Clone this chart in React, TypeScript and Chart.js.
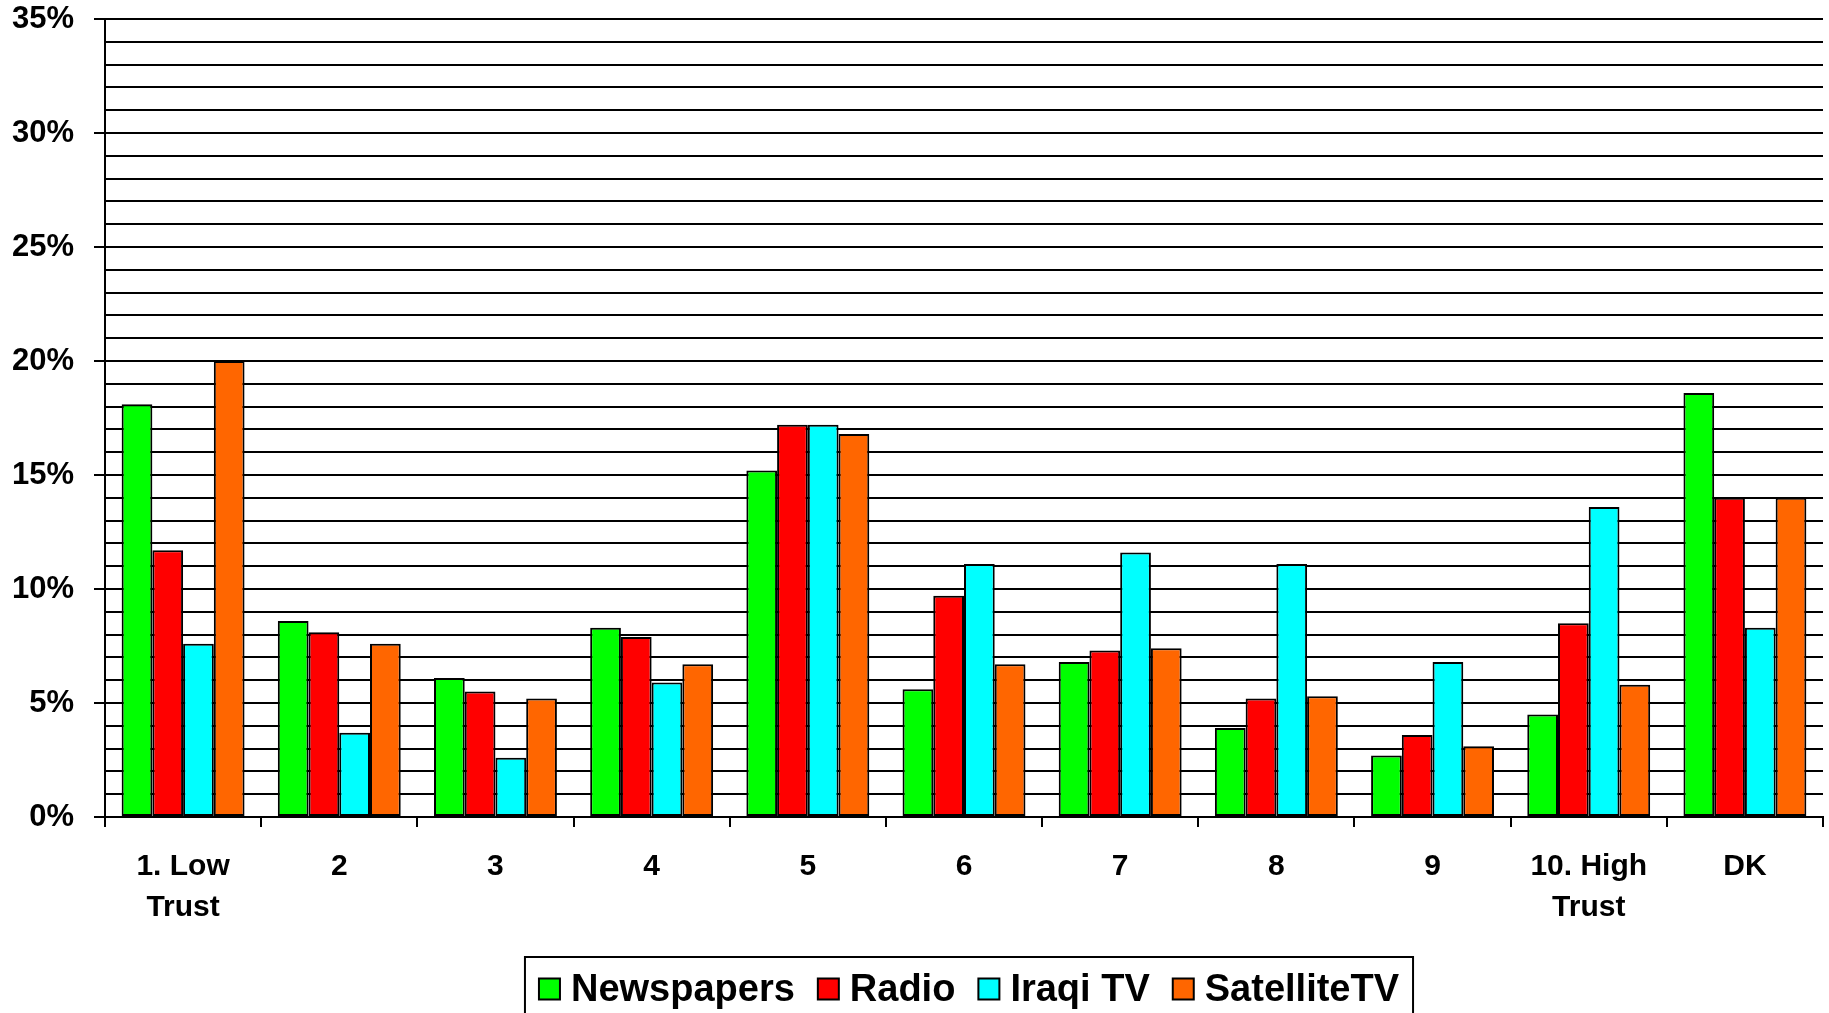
import React, { useEffect, useRef } from 'react';
import { Chart, registerables } from 'chart.js';

Chart.register(...registerables);

const categories: (string | string[])[] = [
  ['1. Low', 'Trust'], '2', '3', '4', '5', '6', '7', '8', '9', ['10. High', 'Trust'], 'DK',
];
const newspapers = [18.1, 8.6, 6.1, 8.3, 15.2, 5.6, 6.8, 3.9, 2.7, 4.5, 18.6];
const radio = [11.7, 8.1, 5.5, 7.9, 17.2, 9.7, 7.3, 5.2, 3.6, 8.5, 14.0];
const iraqiTV = [7.6, 3.7, 2.6, 5.9, 17.2, 11.1, 11.6, 11.1, 6.8, 13.6, 8.3];
const satelliteTV = [20.0, 7.6, 5.2, 6.7, 16.8, 6.7, 7.4, 5.3, 3.1, 5.8, 14.0];
const seriesNames = ['Newspapers', 'Radio', 'Iraqi TV', 'SatelliteTV'];
const seriesColors = ['#00FF00', '#FF0000', '#00FFFF', '#FF6600'];
const yMin = 0;
const yMax = 35;
const yLabelStep = 5;

const FONT = '"Liberation Sans", Arial, sans-serif';

const boxLegend = {
  id: 'boxLegend',
  afterDraw(chart: any) {
    const ctx = chart.ctx as CanvasRenderingContext2D;
    const area = chart.chartArea;
    ctx.save();
    ctx.font = `bold 38px ${FONT}`;
    const box = 21;
    const gapText = 11;
    const gapItem = 23;
    const padX = 14;
    const items = chart.data.datasets.map((d: any) => ({
      label: d.label as string,
      color: d.backgroundColor as string,
      w: ctx.measureText(d.label).width,
    }));
    let total = 0;
    items.forEach((it: any, i: number) => {
      total += box + gapText + it.w + (i < items.length - 1 ? gapItem : 0);
    });
    const cx = (area.left + area.right) / 2 + 5;
    const startX = cx - total / 2;
    const top = 957;
    const midY = 989;
    ctx.lineWidth = 2;
    ctx.strokeStyle = '#000';
    ctx.strokeRect(startX - padX, top, total + padX * 2, 80);
    let x = startX;
    ctx.textBaseline = 'middle';
    ctx.textAlign = 'left';
    items.forEach((it: any) => {
      ctx.fillStyle = it.color;
      ctx.fillRect(x, midY - box / 2, box, box);
      ctx.lineWidth = 2;
      ctx.strokeRect(x, midY - box / 2, box, box);
      ctx.fillStyle = '#000';
      ctx.fillText(it.label, x + box + gapText, midY + 2);
      x += box + gapText + it.w + gapItem;
    });
    ctx.restore();
  },
};

export default function App() {
  const ref = useRef<HTMLCanvasElement | null>(null);

  useEffect(() => {
    document.body.style.margin = '0';
    const canvas = ref.current;
    if (!canvas) return;
    const seriesValues = [newspapers, radio, iraqiTV, satelliteTV];
    const chart = new Chart(canvas, {
      type: 'bar',
      data: {
        labels: categories as any,
        datasets: seriesNames.map((name, i) => ({
          label: name,
          data: seriesValues[i],
          backgroundColor: seriesColors[i],
          borderColor: '#000000',
          borderWidth: 2,
          borderSkipped: false,
          categoryPercentage: 0.787,
          barPercentage: 1.0,
        })),
      },
      options: {
        responsive: false,
        animation: false,
        devicePixelRatio: 1,
        layout: { padding: { top: 19, right: 6, bottom: 76, left: 0 } },
        plugins: {
          legend: { display: false },
          tooltip: { enabled: false },
        },
        scales: {
          x: {
            grid: {
              display: true,
              drawOnChartArea: false,
              drawTicks: true,
              tickLength: 10,
              color: '#000',
              lineWidth: 2,
              offset: true,
            },
            border: { display: true, color: '#000', width: 2 },
            ticks: {
              color: '#000',
              padding: 19,
              maxRotation: 0,
              autoSkip: false,
              font: { family: FONT, size: 30, weight: 'bold', lineHeight: 1.37 },
            },
            afterFit(scale: any) {
              scale.height = 120;
              scale.paddingLeft = 0;
              scale.paddingRight = 0;
            },
          },
          y: {
            min: yMin,
            max: yMax,
            grid: {
              color: '#000',
              lineWidth: 2,
              drawTicks: true,
              tickLength: 11,
              tickColor: (ctx: any) =>
                ctx.tick && ctx.tick.value % yLabelStep === 0 ? '#000' : 'rgba(0,0,0,0)',
            },
            border: { display: true, color: '#000', width: 2 },
            ticks: {
              stepSize: 1,
              autoSkip: false,
              color: '#000',
              padding: 20,
              font: { family: FONT, size: 31, weight: 'bold', lineHeight: 1.2 },
              callback: (v: any) => (Number(v) % yLabelStep === 0 ? `${v}%` : ''),
            },
            afterFit(scale: any) {
              scale.width = 105;
              scale.paddingTop = 0;
              scale.paddingBottom = 0;
            },
          },
        },
      },
      plugins: [boxLegend],
    });
    return () => chart.destroy();
  }, []);

  return (
    <canvas
      ref={ref}
      width={1829}
      height={1013}
      style={{ display: 'block', width: '1829px', height: '1013px' }}
    />
  );
}
